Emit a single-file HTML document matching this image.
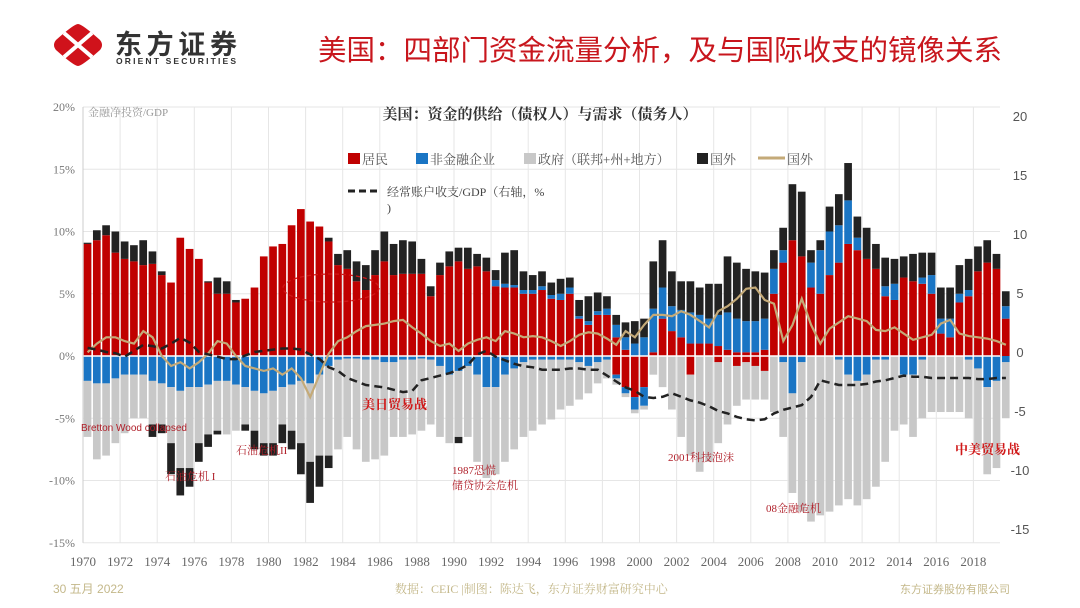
<!DOCTYPE html>
<html><head><meta charset="utf-8">
<style>
html,body{margin:0;padding:0;background:#fff;}
svg{display:block;}
text{font-family:"Liberation Serif","Noto Serif CJK SC",serif;}
.sans{font-family:"Liberation Sans","Noto Sans CJK SC",sans-serif;}
</style></head>
<body>
<svg id="chart" width="1080" height="608" viewBox="0 0 1080 608" xmlns="http://www.w3.org/2000/svg">
  <g>
    <path d="M78,24 Q82,24 100,40 Q104,45 100,50 Q82,66 78,66 Q74,66 56,50 Q52,45 56,40 Q74,24 78,24 Z" fill="#d0121b"/>
    <line x1="64" y1="33" x2="92" y2="57" stroke="#fff" stroke-width="4"/>
    <line x1="92" y1="33" x2="64" y2="57" stroke="#fff" stroke-width="4"/>
    <text class="sans" x="115" y="54" font-size="27" font-weight="bold" fill="#333" textLength="122">东方证券</text>
    <text class="sans" x="116" y="64" font-size="8.5" font-weight="bold" fill="#333" textLength="120">ORIENT SECURITIES</text>
  </g>
  <text class="sans" x="318" y="60" font-size="28.5" fill="#c8161d">美国：四部门资金流量分析，及与国际收支的镜像关系</text>

  <g id="grid"></g>
  <g id="bars"></g>
  <g id="lines"></g>
  <g id="axes"></g>

  <text x="88" y="116" font-size="11" fill="#999">金融净投资/GDP</text>
  <text x="540" y="119" font-size="15" font-weight="bold" fill="#333" text-anchor="middle">美国：资金的供给（债权人）与需求（债务人）</text>

  <g font-size="13" fill="#555">
    <g><rect x="348" y="153" width="12" height="11" fill="#c00000"/><text x="362" y="164">居民</text></g>
    <g><rect x="416" y="153" width="12" height="11" fill="#1a75c4"/><text x="430" y="164">非金融企业</text></g>
    <g><rect x="524" y="153" width="12" height="11" fill="#c8c8c8"/><text x="538" y="164">政府（联邦+州+地方）</text></g>
    <g><rect x="697" y="153" width="11" height="11" fill="#222"/><text x="710" y="164">国外</text></g>
    <g><line x1="758" y1="158" x2="785" y2="158" stroke="#c4aa78" stroke-width="3"/><text x="787" y="164">国外</text></g>
    <g><line x1="348" y1="191" x2="378" y2="191" stroke="#222" stroke-width="3" stroke-dasharray="7,4"/><text x="387" y="196" font-size="12" fill="#444">经常账户收支/GDP（右轴，%</text><text x="387" y="212" font-size="12" fill="#444">)</text></g>
  </g>

  <g fill="#b0202a">
    <ellipse cx="331" cy="288" rx="48" ry="14" fill="none" stroke="#d01818" stroke-width="1.3" stroke-dasharray="4,3"/>
    <text class="sans" x="81" y="431" font-size="10">Bretton Wood collapsed</text>
    <text x="165" y="480" font-size="11">石油危机 I</text>
    <text x="236" y="454" font-size="11">石油危机II</text>
    <text x="362" y="409" font-size="13" font-weight="bold" fill="#d01818">美日贸易战</text>
    <text x="452" y="474" font-size="11">1987恐慌</text>
    <text x="452" y="489" font-size="11">储贷协会危机</text>
    <text x="668" y="461" font-size="11">2001科技泡沫</text>
    <text x="766" y="512" font-size="11">08金融危机</text>
    <text x="955" y="454" font-size="13" font-weight="bold" fill="#d01818">中美贸易战</text>
  </g>

  <g font-size="12" fill="#c4b88a">
    <text class="sans" x="53" y="593">30 五月 2022</text>
    <text x="395" y="593">数据：CEIC |制图：陈达飞，东方证券财富研究中心</text>
    <text class="sans" x="900" y="593" font-size="11">东方证券股份有限公司</text>
  </g>
</svg>
<script>
// semiannual data, first bar = 1970 H1
const startYear = 1970;
const household = [9,9.3,9.7,8.3,7.8,7.6,7.3,7.4,6.5,5.9,9.5,8.6,7.8,5.9,5.0,5.0,4.3,4.6,5.5,8.0,8.8,9.0,10.5,11.8,10.8,10.4,9.2,7.3,7.0,6.0,5.3,6.5,7.6,6.5,6.6,6.6,6.6,4.8,6.5,7.2,7.6,7.0,7.2,6.8,5.6,5.5,5.5,5.0,5.0,5.3,4.6,4.5,5.0,3.0,2.5,3.3,3.3,1.5,0.5,0,0,0.3,3.0,2.0,1.5,1.0,1.0,1.0,0.8,0.5,0.3,0.3,0.3,0.5,5,7.5,9.3,8.0,5.5,5.0,6.5,7.5,9.0,8.5,7.8,7.0,4.8,4.5,6.3,6.0,5.8,5.0,1.8,1.5,4.3,4.8,6.8,7.5,7.0,3.0];
const corpPos = [0,0,0,0,0,0,0,0,0,0,0,0,0,0,0,0,0,0,0,0,0,0,0,0,0,0,0,0,0,0,0,0,0,0,0,0,0,0,0,0,0,0,0,0,0.5,0.3,0.2,0.3,0.3,0.3,0.3,0.5,0.5,0.2,0.3,0.3,0.5,1,1,1,1.5,3.5,2.5,2,2.2,2.5,2.3,2.0,2.5,3,2.7,2.5,2.5,2.5,2,1,0,0,2,3.5,3.5,3,3.5,1,0,0,0.8,1.3,0,0,0.5,1.5,1.2,1.5,0.7,0.5,0,0,0,1];
const foreignPos = [0.1,0.8,0.8,1.7,1.4,1.3,2,1,0.3,0,0,0,0,0.1,1.3,1,0.2,0,0,0,0,0,0,0,0,0,0.3,0.9,1.5,1.6,2.0,2.0,2.4,2.5,2.7,2.6,1.2,0.8,1,1.2,1.1,1.7,1,1.1,0.8,2.5,2.8,1.5,1.2,1.2,1,1.2,0.8,1.3,2,1.5,1,0.8,1.2,1.8,1.5,3.8,3.8,2.8,2.3,2.5,2.2,2.8,2.5,4.5,4.5,4.2,4,3.7,1.5,1.8,4.5,5.2,1,0.8,2.0,2.5,3,1.7,2.5,2.0,2.3,2,1.7,2.2,2,1.8,2.5,2.5,2.3,2.5,2,1.8,1.2,1.2];
const householdNeg = [0,0,0,0,0,0,0,0,0,0,0,0,0,0,0,0,0,0,0,0,0,0,0,0,0,0,0,0,0,0,0,0,0,0,0,0,0,0,0,0,0,0,0,0,0,0,0,0,0,0,0,0,0,0,0,0,0,1.5,2.5,3.3,2.5,0,0,0,0,1.5,0,0,0.5,0,0.8,0.5,0.8,1.2,0,0,0,0,0,0,0,0,0,0,0,0,0,0,0,0,0,0,0,0,0,0,0,0,0,0];
const corpNeg = [2.0,2.2,2.2,1.8,1.5,1.5,1.5,2.0,2.2,2.5,2.8,2.5,2.5,2.3,2.0,2.0,2.3,2.5,2.8,3.0,2.8,2.5,2.3,2.0,2.2,1.5,0.8,0.3,0.2,0.2,0.3,0.3,0.5,0.5,0.3,0.3,0.2,0.3,0.8,1.5,1.2,0.8,1.5,2.5,2.5,1.5,1.0,0.5,0.3,0.3,0.3,0.3,0.3,0.5,0.8,0.5,0.3,0.3,0.5,1.0,1.5,0,0,0,0,0,0,0,0,0,0,0,0,0,0,0.5,3.0,0.5,0,0,0,0.3,1.5,2.0,1.5,0.3,0.3,0,1.5,1.5,0.3,0,0,0,0,0.3,1.0,2.5,2.0,0.5];
const govNeg = [4.5,6.1,5.8,5.2,4.7,3.5,3.5,3.5,3.3,4.5,6.2,6.5,4.5,4.0,4.0,4.3,3.7,3.0,3.2,4.0,4.2,3.0,3.7,5.0,6.3,6.5,7.2,7.2,6.3,7.3,8.2,8.0,7.5,6.0,6.2,6.0,5.8,5.2,5.7,5.5,5.3,5.7,7.0,7.3,7.0,7.0,6.5,6.0,5.7,5.2,4.8,4.0,3.7,3.0,2.2,1.7,1.5,0.5,0.3,0.3,0.3,1.5,2.5,4.3,6.5,6.5,9.3,8.5,6.5,5.5,3.2,3.0,2.7,2.3,4.5,6.0,8.0,12.0,13.3,12.8,12.5,11.7,10.0,10.0,10.0,10.2,8.2,6.0,4.0,5.0,4.7,4.5,4.5,4.5,4.5,4.7,6.5,7.0,7.0,4.5];
const foreignNeg = [0,0,0,0,0,0,0,1.0,0.7,2.5,2.2,1.5,1.5,1.0,0.3,0,0,0.5,1.5,1.0,1.0,1.5,1.5,2.5,3.3,2.5,1.0,0,0,0,0,0,0,0,0,0,0,0,0,0,0.5,0,0,0,0,0,0,0,0,0,0,0,0,0,0,0,0,0,0,0,0,0,0,0,0,0,0,0,0,0,0,0,0,0,0,0,0,0,0,0,0,0,0,0,0,0,0,0,0,0,0,0,0,0,0,0,0,0,0,0];
const foreignLine = [0.3,1.0,1.5,1.5,1.2,1.0,2.0,1.5,0.0,-0.8,-0.5,-1.0,-0.5,0.2,1.2,1.0,0.0,-0.8,-1.0,-1.2,-1.0,-1.5,-1.0,-1.8,-3.3,-1.5,0.2,1.2,1.5,2.0,2.4,2.5,2.6,2.8,2.9,2.3,1.8,1.2,0.8,1.0,0.4,1.0,1.3,1.5,1.2,2.0,1.8,1.5,1.6,1.5,1.2,0.8,1.2,1.7,1.9,1.8,1.4,0.9,2.0,1.5,2.5,3.3,3.3,3.2,3.6,3.3,2.8,2.3,3.6,4.0,4.6,5.4,5.5,4.5,4.2,1.2,2.5,4.6,2.5,1.0,2.2,2.7,3.2,3.0,2.8,2.1,2.0,2.3,1.8,1.3,1.5,1.7,2.6,2.9,1.8,1.6,1.5,1.4,1.2,0.9];
const currentAccount = [0.35,0.2,0,-0.1,-0.4,0.1,0.6,0.5,0.3,0.7,1.2,0.8,0.0,-0.2,-0.4,-0.6,-0.6,-0.3,0.0,0.1,0.2,0.3,0.3,0.2,-0.2,-0.6,-1.3,-1.6,-2.2,-2.5,-2.8,-2.9,-3.0,-3.2,-3.4,-3.3,-2.4,-2.2,-2.0,-1.8,-1.5,-1.1,-0.2,0.1,-0.4,-0.7,-1.0,-1.2,-1.3,-1.5,-1.5,-1.5,-1.4,-1.4,-1.5,-1.5,-2.0,-2.5,-3.0,-3.3,-3.8,-3.9,-3.8,-3.5,-3.8,-4.1,-4.3,-4.6,-5.0,-5.2,-5.5,-5.7,-5.8,-5.7,-5.2,-4.9,-4.7,-4.5,-3.8,-2.4,-2.6,-2.8,-2.8,-2.8,-2.7,-2.5,-2.4,-2.2,-2.0,-2.1,-2.1,-2.2,-2.2,-2.2,-2.2,-2.2,-2.3,-2.3,-2.2,-2.2];
const leftTicks = [20,15,10,5,0,-5,-10,-15];
const leftTickLabels = ["20%","15%","10%","5%","0%","-5%","-10%","-15%"];
const rightTicks = [20,15,10,5,0,-5,-10,-15];
const rightTickLabels = ["20","15","10","5","0","-5","-10","-15"];
const yearTicks = [1970,1972,1974,1976,1978,1980,1982,1984,1986,1988,1990,1992,1994,1996,1998,2000,2002,2004,2006,2008,2010,2012,2014,2016,2018];

const NS = "http://www.w3.org/2000/svg";
const X0 = 83, PX_PER_YEAR = 18.55, PLOT_RIGHT = 1000;
function xYear(y){ return X0 + (y - startYear) * PX_PER_YEAR; }
function yLeft(v){ return 356 - v * 12.45; }
function yRight(v){ return 352 - v * 11.8; }
function mk(tag, attrs, parent){ const e = document.createElementNS(NS, tag); for (const k in attrs) e.setAttribute(k, attrs[k]); parent.appendChild(e); return e; }

const grid = document.getElementById('grid');
const axes = document.getElementById('axes');
const bars = document.getElementById('bars');
const lines = document.getElementById('lines');

leftTicks.forEach((t, i) => {
  const gl = mk('line', {x1: X0, x2: PLOT_RIGHT, y1: yLeft(t), y2: yLeft(t), stroke: '#e6e6e6', 'stroke-width': 1}, grid);
  
  
  const tl = mk('text', {x: 75, y: yLeft(t) + 4, 'font-size': 12, fill: '#777', 'text-anchor': 'end'}, axes);
  tl.textContent = leftTickLabels[i];
  
  
});
rightTicks.forEach((t, i) => {
  const tl = mk('text', {x: 1020, y: yRight(t) + 5, 'font-size': 13, fill: '#555', 'text-anchor': 'middle', class: 'sans'}, axes);
  tl.textContent = rightTickLabels[i];
  
  
});
yearTicks.forEach(yr => {
  const x = xYear(yr);
  if (x > PLOT_RIGHT) return;
  const gl = mk('line', {x1: x, x2: x, y1: yLeft(20), y2: yLeft(-15), stroke: '#e6e6e6', 'stroke-width': 1}, grid);
  
  
  const tl = mk('text', {x: x, y: 566, 'font-size': 13, fill: '#666', 'text-anchor': 'middle'}, axes);
  tl.textContent = String(yr);
  
  
});
const ax = mk('line', {x1: X0, x2: X0, y1: yLeft(20), y2: yLeft(-15), stroke: '#ccc', 'stroke-width': 1}, axes);



const W = PX_PER_YEAR / 2;
function seg(i, v0, v1, color, name){
  if (Math.abs(v1 - v0) < 1e-9) return;
  const x = xYear(startYear + i / 2) + 0.7;
  const ya = yLeft(Math.max(v0, v1)), yb = yLeft(Math.min(v0, v1));
  const r = mk('rect', {x: x, y: ya, width: W - 1.6, height: yb - ya, fill: color}, bars);
  
  
}
household.forEach((h, i) => {
  let p = 0;
  seg(i, p, p + h, '#c00000', 'bar-household'); p += h;
  seg(i, p, p + corpPos[i], '#1a75c4', 'bar-corporate'); p += corpPos[i];
  seg(i, p, p + foreignPos[i], '#222222', 'bar-foreign'); p += foreignPos[i];
  let n = 0;
  seg(i, n, n - householdNeg[i], '#c00000', 'bar-household-neg'); n -= householdNeg[i];
  seg(i, n, n - corpNeg[i], '#1a75c4', 'bar-corporate-neg'); n -= corpNeg[i];
  seg(i, n, n - govNeg[i], '#c8c8c8', 'bar-government'); n -= govNeg[i];
  seg(i, n, n - foreignNeg[i], '#222222', 'bar-foreign-neg');
});
const zl = mk('line', {x1: X0, x2: PLOT_RIGHT, y1: yLeft(0), y2: yLeft(0), stroke: '#fff', 'stroke-width': 1.5}, bars);



const pf = foreignLine.map((v, i) => xYear(startYear + i / 2 + 0.25).toFixed(1) + ',' + yLeft(v).toFixed(1)).join(' ');
const l1 = mk('polyline', {points: pf, fill: 'none', stroke: '#c4aa78', 'stroke-width': 2.2}, lines);


const pc = currentAccount.map((v, i) => xYear(startYear + i / 2 + 0.25).toFixed(1) + ',' + yRight(v).toFixed(1)).join(' ');
const l2 = mk('polyline', {points: pc, fill: 'none', stroke: '#222', 'stroke-width': 2.5, 'stroke-dasharray': '8,5'}, lines);


</script>
</body></html>
